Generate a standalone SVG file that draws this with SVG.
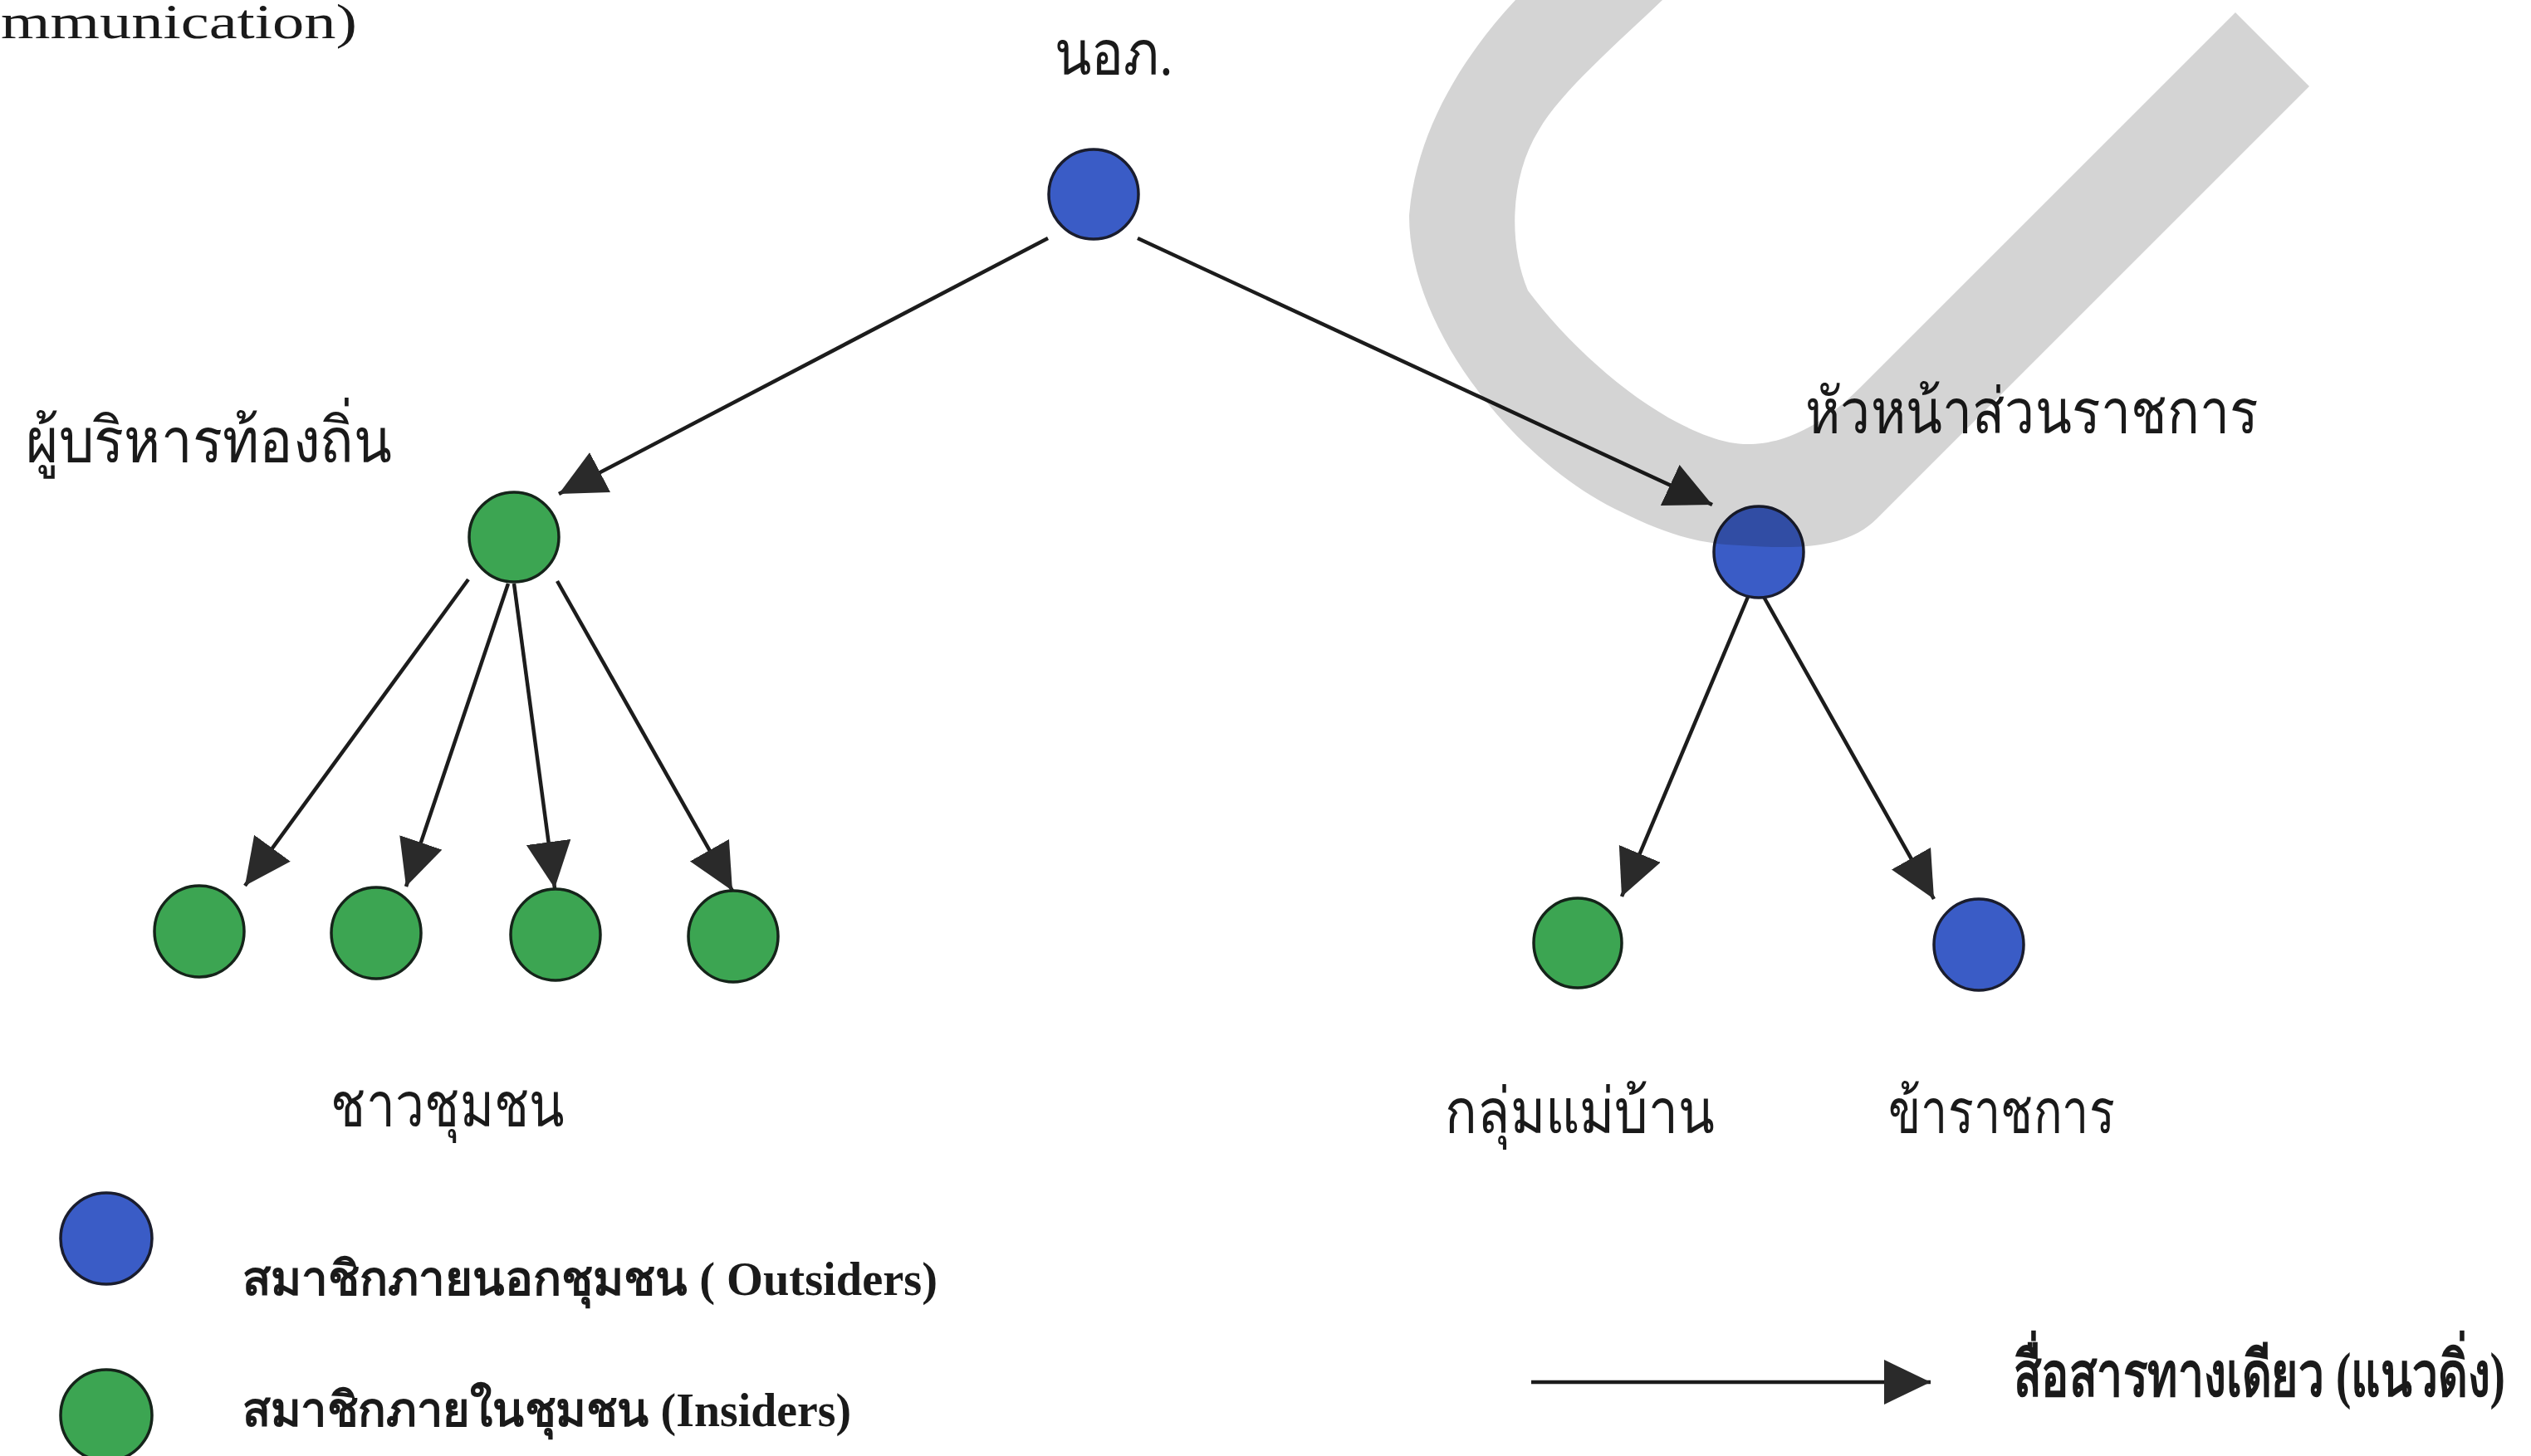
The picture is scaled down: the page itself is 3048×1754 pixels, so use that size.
<svg xmlns="http://www.w3.org/2000/svg" width="3048" height="1754" viewBox="0 0 3048 1754">
<defs>
<style>
.ln{stroke:#1c1c1c;stroke-width:4.5;fill:none;marker-end:url(#ah)}
.blue{fill:#3a5cc6;stroke:#1a1d2e;stroke-width:3.5}
.green{fill:#3ca552;stroke:#15241a;stroke-width:3.5}
.lbl{font-family:"Liberation Serif",serif;font-size:76px;fill:#1a1a1a}
.leg{font-family:"Liberation Serif",serif;font-weight:bold;font-size:58px;fill:#1a1a1a}
.wm{fill:#d4d4d4;mix-blend-mode:multiply}
</style>
<marker id="ah" markerUnits="userSpaceOnUse" viewBox="0 0 58 56" markerWidth="58" markerHeight="56" refX="56" refY="27" orient="auto">
<path d="M0,0 L56,27 L0,54 Z" fill="#2a2a2a"/>
</marker>
</defs>
<rect width="3048" height="1754" fill="#ffffff"/>

<text x="430" y="46" text-anchor="end" font-family="Liberation Serif,serif" font-size="60" fill="#1a1a1a" textLength="429" lengthAdjust="spacingAndGlyphs">mmunication)</text>

<g id="connectors">
<line class="ln" x1="1262" y1="287" x2="673" y2="595"/>
<line class="ln" x1="1370" y1="287" x2="2062" y2="608"/>
<line class="ln" x1="564" y1="698" x2="295" y2="1067"/>
<line class="ln" x1="612" y1="703" x2="489" y2="1068"/>
<line class="ln" x1="619" y1="703" x2="668" y2="1070"/>
<line class="ln" x1="671" y1="700" x2="882" y2="1073"/>
<line class="ln" x1="2105" y1="719" x2="1953" y2="1080"/>
<line class="ln" x1="2124" y1="719" x2="2329" y2="1083"/>
</g>

<g id="node-nai-amphoe">
<ellipse class="blue" cx="1317" cy="234" rx="54" ry="54"/>
<text class="lbl" x="1341" y="90" text-anchor="middle" textLength="143" lengthAdjust="spacingAndGlyphs">นอภ.</text>
</g>
<g id="node-local-admin">
<ellipse class="green" cx="619" cy="647" rx="54" ry="54"/>
<text class="lbl" x="31" y="557" textLength="441" lengthAdjust="spacingAndGlyphs">ผู้บริหารท้องถิ่น</text>
</g>
<g id="node-dept-head">
<ellipse class="blue" cx="2118" cy="665" rx="54" ry="55"/>
<text class="lbl" x="2174" y="522" textLength="546" lengthAdjust="spacingAndGlyphs">หัวหน้าส่วนราชการ</text>
</g>
<g id="node-villager-1"><ellipse class="green" cx="240" cy="1122" rx="54" ry="55"/></g>
<g id="node-villager-2"><ellipse class="green" cx="453" cy="1124" rx="54" ry="55"/></g>
<g id="node-villager-3"><ellipse class="green" cx="669" cy="1126" rx="54" ry="55"/></g>
<g id="node-villager-4"><ellipse class="green" cx="883" cy="1128" rx="54" ry="55"/></g>
<g id="label-villagers">
<text class="lbl" x="398" y="1357" textLength="282" lengthAdjust="spacingAndGlyphs">ชาวชุมชน</text>
</g>
<g id="node-housewives">
<ellipse class="green" cx="1900" cy="1136" rx="53" ry="54"/>
<text class="lbl" x="1740" y="1365" textLength="325" lengthAdjust="spacingAndGlyphs">กลุ่มแม่บ้าน</text>
</g>
<g id="node-civil-servant">
<ellipse class="blue" cx="2383" cy="1138" rx="54" ry="55"/>
<text class="lbl" x="2274" y="1365" textLength="273" lengthAdjust="spacingAndGlyphs">ข้าราชการ</text>
</g>

<g id="legend">
<ellipse class="blue" cx="128" cy="1492" rx="55" ry="55"/>
<text class="leg" x="292" y="1560" textLength="837" lengthAdjust="spacingAndGlyphs">สมาชิกภายนอกชุมชน ( Outsiders)</text>
<ellipse class="green" cx="128" cy="1705" rx="55" ry="55"/>
<text class="leg" x="292" y="1718" textLength="733" lengthAdjust="spacingAndGlyphs">สมาชิกภายในชุมชน (Insiders)</text>
<line class="ln" x1="1844" y1="1665" x2="2325" y2="1665"/>
<text class="lbl" x="2425" y="1682" font-weight="bold" font-size="60" textLength="592" lengthAdjust="spacingAndGlyphs">สื่อสารทางเดียว (แนวดิ่ง)</text>
</g>

<path class="wm" d="M1825,0 C1760,70 1705,160 1697,260 C1697,400 1830,560 1953,617 C2000,640 2040,655 2095,657 C2170,662 2225,660 2260,625 L2781,104 L2692,15 L2240,467 C2175,532 2120,540 2083,533 C2000,515 1900,430 1840,350 C1815,290 1820,210 1853,157 C1880,110 1950,50 2002,0 Z"/>
</svg>
